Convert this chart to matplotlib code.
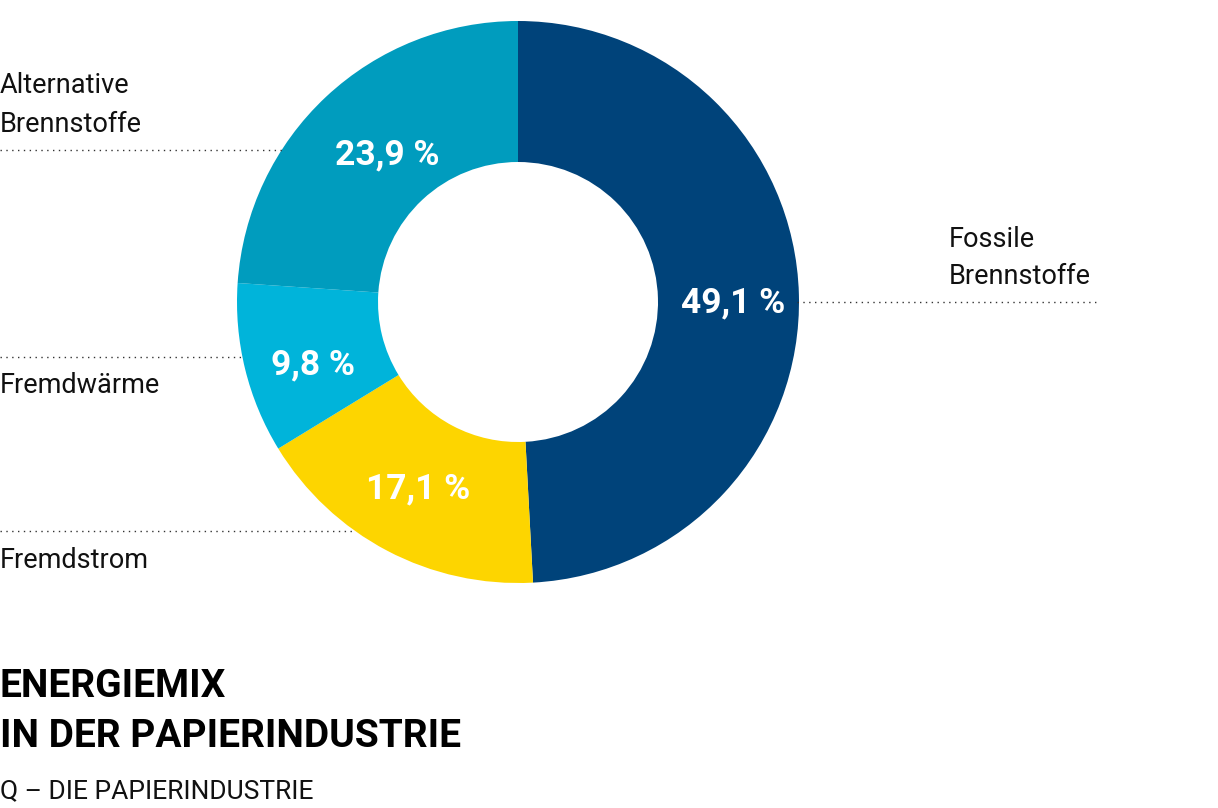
import matplotlib.pyplot as plt

W, H = 1218, 808

categories = ["Fossile\nBrennstoffe", "Fremdstrom", "Fremdwärme", "Alternative\nBrennstoffe"]
shares = [49.1, 17.1, 9.8, 23.9]
colors = ["#00437a", "#fdd500", "#00b4da", "#009cbe"]

CENTER = (518, 302)
R_OUT = 281
RING = 141

# small nudges (px) of the percentage labels, to sit like in the original
LABEL_NUDGE = [(4, 7), (-2, 0), (0, 13), (13, 7)]


def fmt_pct(v: float) -> str:
    return f"{v:.1f}".replace(".", ",") + " %"


def main() -> None:
    plt.rcParams.update({"font.family": ["Roboto", "DejaVu Sans"]})
    fig = plt.figure(figsize=(W / 100, H / 100), dpi=100)
    ax = fig.add_axes([0, 0, 1, 1])

    total = sum(shares)
    wedges, _, autotexts = ax.pie(
        shares,
        colors=colors,
        center=CENTER,
        radius=R_OUT,
        startangle=-90,
        counterclock=True,
        wedgeprops={"width": RING, "linewidth": 0},
        autopct=lambda p: fmt_pct(p * total / 100.0),
        pctdistance=0.75,
        textprops={"color": "white", "fontsize": 25.5, "fontweight": "bold"},
    )
    for t, (dx, dy) in zip(autotexts, LABEL_NUDGE):
        x, y = t.get_position()
        t.set_position((x + dx, y + dy))

    ax.set_xlim(0, W)
    ax.set_ylim(H, 0)
    ax.set_aspect("equal")
    ax.axis("off")

    dots = {"color": "#333333", "linewidth": 1.0, "linestyle": (0, (1, 3.2))}
    lab = {"fontsize": 19.5, "fontweight": "normal", "color": "#111111", "va": "baseline"}

    # Alternative Brennstoffe
    ax.plot([0, 285], [150, 150], **dots)
    ax.text(0, 93, "Alternative", **lab)
    ax.text(0, 132, "Brennstoffe", **lab)

    # Fossile Brennstoffe
    ax.plot([797, 1100], [302, 302], **dots)
    ax.text(949, 247, "Fossile", **lab)
    ax.text(949, 284, "Brennstoffe", **lab)

    # Fremdwärme
    ax.plot([0, 242], [357, 357], **dots)
    ax.text(0, 393, categories[2], **lab)

    # Fremdstrom
    ax.plot([0, 355], [531, 531], **dots)
    ax.text(0, 568, categories[1], **lab)

    title = {"fontsize": 28, "fontweight": "bold", "color": "#000000", "va": "baseline"}
    ax.text(0, 697, "ENERGIEMIX", **title)
    ax.text(0, 747, "IN DER PAPIERINDUSTRIE", **title)
    ax.text(0, 798, "Q – DIE PAPIERINDUSTRIE", fontsize=19, fontweight="normal",
            color="#111111", va="baseline")

    fig.savefig("out.png", dpi=100, facecolor="white")


if __name__ == "__main__":
    main()
